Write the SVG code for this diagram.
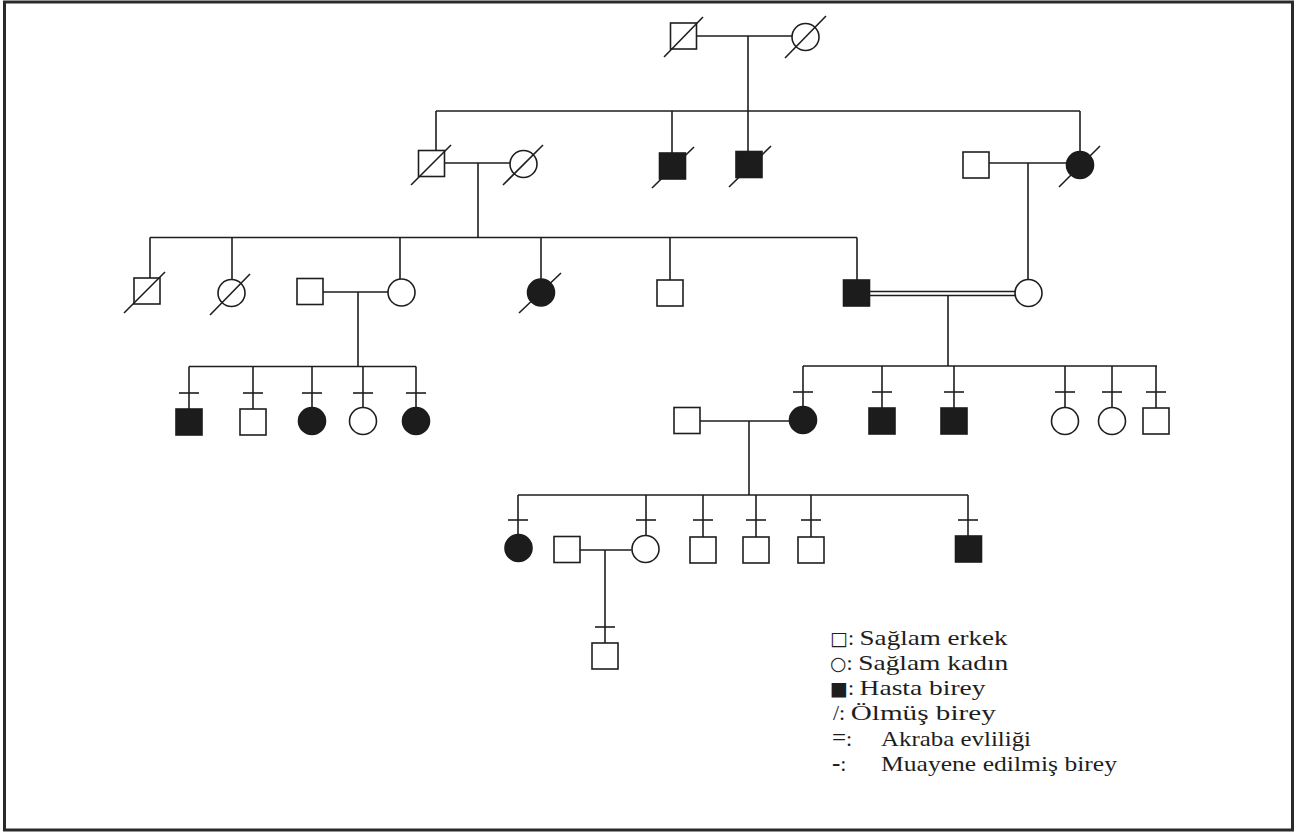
<svg xmlns="http://www.w3.org/2000/svg" width="1306" height="832" viewBox="0 0 1306 832">
<style>
.ln{stroke:#1e1e1e;stroke-width:1.6;fill:none}
.op{fill:#fff;stroke:#1e1e1e;stroke-width:1.6}
.af{fill:#1c1c1c;stroke:#1c1c1c;stroke-width:1.6}
.sl{stroke:#1e1e1e;stroke-width:1.6}
.tk{stroke:#1e1e1e;stroke-width:1.6}
.lg{font-family:"Liberation Serif","Times New Roman",serif;font-size:22px;fill:#1e1e1e}
.sym{font-family:"DejaVu Sans",sans-serif;font-size:19px}
.op2{font-size:25px}
</style>
<rect x="0" y="0" width="1306" height="832" fill="#fff"/>
<rect x="4.5" y="2" width="1288" height="828" fill="none" stroke="#2a2a2a" stroke-width="3"/>

<g id="connectors">
<path class="ln" d="M697,36H792 M748,36V151 M436,111H1080 M436,111V150 M672,111V153 M1080,111V151.5"/>
<path class="ln" d="M445,163H510 M478,163V237.5 M989,163H1066.5 M1028,163V279.5"/>
<path class="ln" d="M150,237.5H857 M150,237.5V278 M232,237.5V279.5 M400,237.5V279 M541,237.5V279 M670,237.5V280 M857,237.5V280"/>
<path class="ln" d="M323,292H388 M358,292V366.5 M189,366.5H416 M189,366.5V409 M253,366.5V409 M312,366.5V407.5 M363,366.5V407.5 M416,366.5V407.5"/>
<path class="ln" d="M869.5,291.5H1015.5 M869.5,295.5H1015.5 M948,295.5V366 M803,366H1157 M803,366V406.5 M882,366V408 M954,366V408 M1065,366V407.5 M1112,366V407.5 M1156,366V408"/>
<path class="ln" d="M700,421H789.5 M749,421V495 M518,495H968 M518,495V534.5 M646,495V535.5 M703,495V537 M756,495V537 M811,495V537 M968,495V536"/>
<path class="ln" d="M580,550H631.5 M605,550V643"/>
</g>

<g id="I1"><rect class="op" x="670.5" y="23" width="26" height="26"/><line class="sl" x1="664" y1="57" x2="703" y2="17"/></g>
<g id="I2"><circle class="op" cx="805.5" cy="37" r="13.5"/><line class="sl" x1="785" y1="58" x2="826" y2="16"/></g>

<g id="II1"><rect class="op" x="418.5" y="150.5" width="26" height="26"/><line class="sl" x1="411" y1="185" x2="451" y2="145"/></g>
<g id="II2"><circle class="op" cx="523.5" cy="164" r="13.5"/><line class="sl" x1="503" y1="185" x2="543" y2="145"/></g>
<g id="II3"><rect class="af" x="659.5" y="153" width="26" height="26"/><line class="sl" x1="652" y1="188" x2="694" y2="147"/></g>
<g id="II4"><rect class="af" x="736" y="151.5" width="26" height="26"/><line class="sl" x1="729" y1="187" x2="771" y2="146"/></g>
<g id="II5"><rect class="op" x="963" y="152" width="26" height="26"/></g>
<g id="II6"><circle class="af" cx="1080" cy="165" r="13.5"/><line class="sl" x1="1059" y1="187" x2="1100" y2="146"/></g>

<g id="III1"><rect class="op" x="134" y="278" width="26" height="26"/><line class="sl" x1="124" y1="313" x2="165" y2="272"/></g>
<g id="III2"><circle class="op" cx="231.5" cy="293" r="13.5"/><line class="sl" x1="210" y1="315" x2="250" y2="274"/></g>
<g id="III3"><rect class="op" x="297" y="278.5" width="26" height="26"/></g>
<g id="III4"><circle class="op" cx="401.5" cy="292.5" r="13.5"/></g>
<g id="III5"><circle class="af" cx="541" cy="292.5" r="13.5"/><line class="sl" x1="519" y1="313" x2="561" y2="273"/></g>
<g id="III6"><rect class="op" x="657" y="280" width="26" height="26"/></g>
<g id="III7"><rect class="af" x="843.5" y="280" width="26" height="26"/></g>
<g id="III8"><circle class="op" cx="1028.5" cy="293" r="13.5"/></g>

<g id="IV1"><rect class="af" x="176" y="409" width="26" height="26"/><line class="tk" x1="179" y1="393" x2="199" y2="393"/></g>
<g id="IV2"><rect class="op" x="240" y="409" width="26" height="26"/><line class="tk" x1="243" y1="393" x2="263" y2="393"/></g>
<g id="IV3"><circle class="af" cx="312" cy="421" r="13.5"/><line class="tk" x1="302" y1="393" x2="322" y2="393"/></g>
<g id="IV4"><circle class="op" cx="363" cy="421" r="13.5"/><line class="tk" x1="353" y1="393" x2="373" y2="393"/></g>
<g id="IV5"><circle class="af" cx="416" cy="421" r="13.5"/><line class="tk" x1="406" y1="393" x2="426" y2="393"/></g>
<g id="IV6"><rect class="op" x="674" y="407.5" width="26" height="26"/></g>
<g id="IV7"><circle class="af" cx="803" cy="420" r="13.5"/><line class="tk" x1="793" y1="392" x2="813" y2="392"/></g>
<g id="IV8"><rect class="af" x="869" y="408" width="26" height="26"/><line class="tk" x1="872" y1="392" x2="892" y2="392"/></g>
<g id="IV9"><rect class="af" x="941" y="408" width="26" height="26"/><line class="tk" x1="944" y1="392" x2="964" y2="392"/></g>
<g id="IV10"><circle class="op" cx="1065" cy="421" r="13.5"/><line class="tk" x1="1055" y1="392" x2="1075" y2="392"/></g>
<g id="IV11"><circle class="op" cx="1112" cy="421" r="13.5"/><line class="tk" x1="1102" y1="392" x2="1122" y2="392"/></g>
<g id="IV12"><rect class="op" x="1143" y="408" width="26" height="26"/><line class="tk" x1="1146" y1="392" x2="1166" y2="392"/></g>

<g id="V1"><circle class="af" cx="518.5" cy="548" r="13.5"/><line class="tk" x1="508" y1="520" x2="528" y2="520"/></g>
<g id="V2"><rect class="op" x="554" y="536.5" width="26" height="26"/></g>
<g id="V3"><circle class="op" cx="645.5" cy="549" r="13.5"/><line class="tk" x1="636" y1="520" x2="656" y2="520"/></g>
<g id="V4"><rect class="op" x="690" y="537" width="26" height="26"/><line class="tk" x1="693" y1="520" x2="713" y2="520"/></g>
<g id="V5"><rect class="op" x="743" y="537" width="26" height="26"/><line class="tk" x1="746" y1="520" x2="766" y2="520"/></g>
<g id="V6"><rect class="op" x="798" y="537" width="26" height="26"/><line class="tk" x1="801" y1="520" x2="821" y2="520"/></g>
<g id="V7"><rect class="af" x="955.5" y="536" width="26" height="26"/><line class="tk" x1="958" y1="520" x2="978" y2="520"/></g>

<g id="VI1"><rect class="op" x="592" y="643" width="26" height="26"/><line class="tk" x1="595" y1="627" x2="615" y2="627"/></g>

<g id="legend" class="lg">
<text x="830" y="645"><tspan class="sym">□</tspan>: <tspan textLength="148" lengthAdjust="spacingAndGlyphs">Sağlam erkek</tspan></text>
<text x="830" y="670"><tspan class="sym">○</tspan>: <tspan textLength="150" lengthAdjust="spacingAndGlyphs">Sağlam kadın</tspan></text>
<text x="830" y="695"><tspan class="sym">■</tspan>: <tspan textLength="126" lengthAdjust="spacingAndGlyphs">Hasta birey</tspan></text>
<text x="833" y="720">/: <tspan textLength="145" lengthAdjust="spacingAndGlyphs">Ölmüş birey</tspan></text>
<text x="832" y="746"><tspan class="op2">=</tspan>:<tspan x="881" textLength="150" lengthAdjust="spacingAndGlyphs">Akraba evliliği</tspan></text>
<text x="832" y="771"><tspan class="op2">-</tspan>:<tspan x="881" textLength="236" lengthAdjust="spacingAndGlyphs">Muayene edilmiş birey</tspan></text>
</g>
</svg>
